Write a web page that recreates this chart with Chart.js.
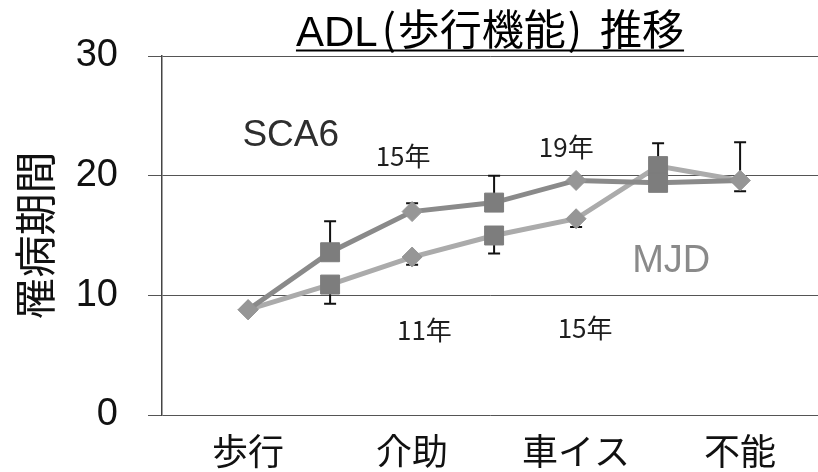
<!DOCTYPE html>
<html>
<head>
<meta charset="utf-8">
<script src="https://cdn.jsdelivr.net/npm/chart.js@4/dist/chart.umd.min.js"></script>
<style>
  html, body { margin: 0; padding: 0; background: #fff; overflow: hidden; }
  canvas { display: block; }
</style>
</head>
<body>
<canvas id="c" width="818" height="472"></canvas>
<script>
// ADL stages on the x axis (drawn at every other position)
const stages = ['歩行', '介助', '車イス', '不能'];
const stagePositions = [0, 2, 4, 6];

// Duration of illness (years) at each step
const sca6Values = [8.8, 13.6, 17.0, 17.75, 19.6, 19.4, 19.6];
const sca6Upper  = [null, 16.2, 17.7, 20.0, 19.9, 22.7, 22.8];
const mjdValues  = [8.8, 10.9, 13.2, 15.0, 16.4, 20.8, 19.6];
const mjdLower   = [null, 9.3, 12.55, 13.5, 15.7, null, 18.7];

const yTicks = [0, 10, 20, 30];
const yTitle = '罹病期間';
const markerShapes = ['rectRot', 'rect', 'rectRot', 'rect', 'rectRot', 'rect', 'rectRot'];

// Text notes placed in data coordinates
const notes = [
  { text: 'SCA6', x: 0.52, y: 23.3, color: '#2e2e2e', font: '37px "Liberation Sans", Arial, sans-serif' },
  { text: 'MJD',  x: 5.16, y: 12.8, color: '#8a8a8a', font: '38px "Liberation Sans", Arial, sans-serif' },
  { text: '15年', x: 1.89, y: 21.65, color: '#1e1e1e', font: '26px "Noto Sans CJK JP", sans-serif' },
  { text: '19年', x: 3.88, y: 22.4,  color: '#1e1e1e', font: '26px "Noto Sans CJK JP", sans-serif' },
  { text: '11年', x: 2.15, y: 7.1,   color: '#1e1e1e', font: '26px "Noto Sans CJK JP", sans-serif' },
  { text: '15年', x: 4.11, y: 7.3,   color: '#1e1e1e', font: '26px "Noto Sans CJK JP", sans-serif' }
];

// Heading, split into runs so the brackets sit tight against the words
const titleRuns = [
  { text: 'ADL', latin: true, gapAfter: 4 },
  { text: '(', gapAfter: 2 },
  { text: '歩行機能', gapAfter: 2 },
  { text: ')', gapAfter: 18 },
  { text: '推移', gapAfter: 0 }
];

const toPoints = vals => vals.map((v, i) => ({ x: i, y: v }));
const radiusFor = shape => shape === 'rect' ? 13.4 : 10;
const markerColor = shape => shape === 'rect' ? '#7d7d7d' : '#969696';

function series(label, values, lineColor) {
  return {
    label,
    data: toPoints(values),
    borderColor: lineColor,
    borderWidth: 5,
    pointStyle: markerShapes,
    pointRadius: markerShapes.map(radiusFor),
    pointBackgroundColor: markerShapes.map(markerColor),
    pointBorderColor: markerShapes.map(markerColor),
    pointBorderWidth: 1,
    tension: 0
  };
}

// Error bars (SCA6 upward, MJD downward) drawn behind the lines
const errorBars = {
  id: 'errorBars',
  beforeDatasetsDraw(chart) {
    const { ctx, scales: { x, y } } = chart;
    const sets = [[sca6Values, sca6Upper], [mjdValues, mjdLower]];
    ctx.save();
    ctx.strokeStyle = '#111';
    ctx.lineWidth = 2;
    sets.forEach(([vals, ends]) => {
      vals.forEach((v, i) => {
        if (ends[i] == null) return;
        const px = x.getPixelForValue(i);
        const y0 = y.getPixelForValue(v);
        const y1 = y.getPixelForValue(ends[i]);
        ctx.beginPath();
        ctx.moveTo(px, y0); ctx.lineTo(px, y1);
        ctx.moveTo(px - 6, y1); ctx.lineTo(px + 6, y1);
        ctx.stroke();
      });
    });
    ctx.restore();
  }
};

// Series names, year notes, the axis title and the underlined heading
const textLayer = {
  id: 'textLayer',
  afterDraw(chart) {
    const { ctx, chartArea, scales: { x, y } } = chart;
    ctx.save();
    ctx.textAlign = 'center';
    ctx.textBaseline = 'middle';
    notes.forEach(n => {
      ctx.font = n.font;
      ctx.fillStyle = n.color;
      ctx.fillText(n.text, x.getPixelForValue(n.x), y.getPixelForValue(n.y));
    });

    // vertical axis title
    ctx.save();
    ctx.translate(35, (chartArea.top + chartArea.bottom) / 2);
    ctx.rotate(-Math.PI / 2);
    ctx.font = '42px "Noto Sans CJK JP", sans-serif';
    ctx.fillStyle = '#111';
    ctx.fillText(yTitle, 0, 0);
    ctx.restore();

    // heading
    const latinFont = '42px "Liberation Sans", Arial, sans-serif';
    const cjkFont = '42px "Noto Sans CJK JP", sans-serif';
    ctx.fillStyle = '#000';
    ctx.textAlign = 'left';
    ctx.textBaseline = 'alphabetic';
    let total = 0;
    titleRuns.forEach(r => {
      ctx.font = r.latin ? latinFont : cjkFont;
      r.w = ctx.measureText(r.text).width;
      total += r.w + r.gapAfter;
    });
    const cx = (chartArea.left + chartArea.right) / 2;
    let tx = cx - total / 2;
    const startX = tx;
    titleRuns.forEach(r => {
      ctx.font = r.latin ? latinFont : cjkFont;
      ctx.fillText(r.text, tx, r.latin ? 46 : 45);
      tx += r.w + r.gapAfter;
    });
    ctx.fillRect(startX, 49.5, total, 2);
    ctx.restore();
  }
};

new Chart(document.getElementById('c'), {
  type: 'line',
  data: {
    datasets: [
      series('SCA6', sca6Values, '#8a8a8a'),
      series('MJD', mjdValues, '#ababab')
    ]
  },
  options: {
    responsive: false,
    animation: false,
    devicePixelRatio: 1,
    layout: { autoPadding: false, padding: { top: 56, right: 0, left: 0, bottom: 0 } },
    plugins: {
      legend: { display: false },
      tooltip: { enabled: false },
      title: { display: false }
    },
    scales: {
      x: {
        type: 'linear',
        min: -1.05,
        max: 6.95,
        afterBuildTicks: s => { s.ticks = stagePositions.map(v => ({ value: v })); },
        afterFit: s => { s.height = 57; s.paddingLeft = 0; s.paddingRight = 0; },
        grid: { display: false, drawTicks: false },
        border: { display: false },
        ticks: {
          autoSkip: false,
          maxRotation: 0,
          padding: 15,
          color: '#111',
          font: { family: '"Noto Sans CJK JP", sans-serif', size: 36 },
          callback: v => stages[stagePositions.indexOf(v)] ?? ''
        }
      },
      y: {
        min: 0,
        max: 30,
        afterBuildTicks: s => { s.ticks = yTicks.map(v => ({ value: v })); },
        afterFit: s => { s.width = 162; s.paddingTop = 0; s.paddingBottom = 0; },
        grid: { color: '#555', lineWidth: 1, tickLength: 14, drawTicks: true, tickColor: '#555' },
        border: { display: true, color: '#444', width: 1.5 },
        ticks: {
          padding: 30,
          color: '#111',
          font: { family: '"Liberation Sans", Arial, sans-serif', size: 38 }
        }
      }
    }
  },
  plugins: [errorBars, textLayer]
});
</script>
</body>
</html>
